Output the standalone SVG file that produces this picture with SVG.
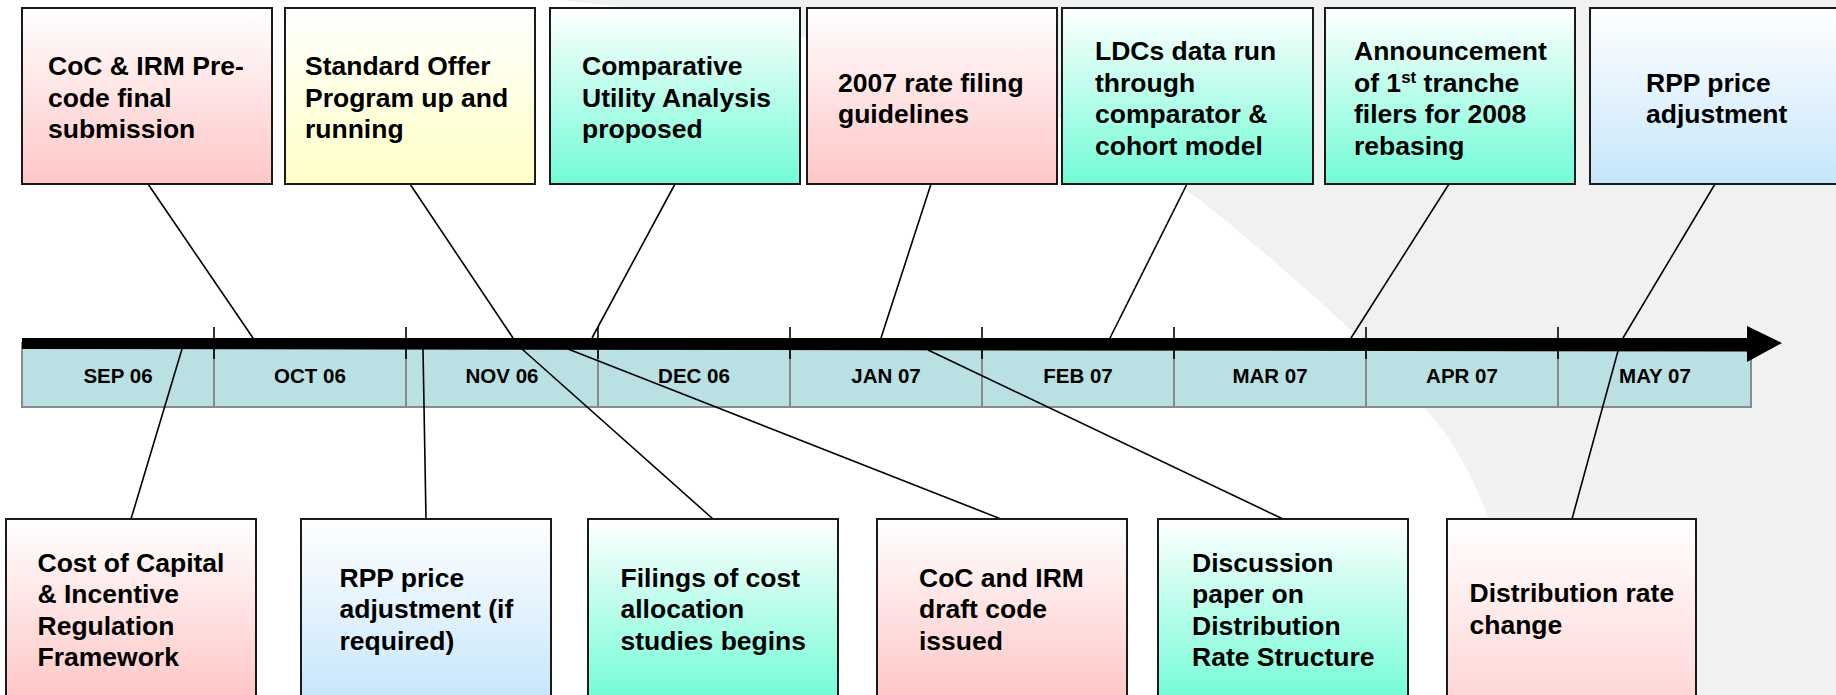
<svg xmlns="http://www.w3.org/2000/svg" width="1836" height="695" viewBox="0 0 1836 695">
<defs>
<linearGradient id="gPink" x1="0" y1="0" x2="0" y2="1"><stop offset="0" stop-color="#FFFFFF"/><stop offset="1" stop-color="#FFC6C6"/></linearGradient>
<linearGradient id="gLightPink" x1="0" y1="0" x2="0" y2="1"><stop offset="0" stop-color="#FFFFFF"/><stop offset="1" stop-color="#FFD6D6"/></linearGradient>
<linearGradient id="gYellow" x1="0" y1="0" x2="0" y2="1"><stop offset="0" stop-color="#FFFFFF"/><stop offset="1" stop-color="#FFFFC6"/></linearGradient>
<linearGradient id="gTeal" x1="0" y1="0" x2="0" y2="1"><stop offset="0" stop-color="#FFFFFF"/><stop offset="1" stop-color="#72FCD6"/></linearGradient>
<linearGradient id="gBlue" x1="0" y1="0" x2="0" y2="1"><stop offset="0" stop-color="#FFFFFF"/><stop offset="1" stop-color="#C6E6FB"/></linearGradient>
<style>
.box{stroke:#1a1a1a;stroke-width:2}
.t{font-family:"Liberation Sans",Arial,sans-serif;font-weight:bold;font-size:26.5px;fill:#000}
.m{font-family:"Liberation Sans",Arial,sans-serif;font-weight:bold;font-size:20.5px;fill:#000;text-anchor:middle}
.c{stroke:#000;stroke-width:1.6;fill:none}
.tick{stroke:#000;stroke-width:1.6}
.div{stroke:#8a8a8a;stroke-width:2}
</style>
</defs>
<rect width="1836" height="695" fill="#FFFFFF"/>
<path d="M560,0 H1836 V695 H1530 C1515,600 1500,520 1450,440 C1400,370 1300,280 1200,200 C1050,90 850,30 560,0 Z" fill="#F0F2F2"/>

<g id="timeline">
<rect x="22" y="343" width="1729" height="64" fill="#B9E0E3" stroke="#8a8a8a" stroke-width="2"/>
<g class="div">
<line x1="214" y1="349" x2="214" y2="407"/><line x1="406" y1="349" x2="406" y2="407"/><line x1="598" y1="349" x2="598" y2="407"/><line x1="790" y1="349" x2="790" y2="407"/><line x1="982" y1="349" x2="982" y2="407"/><line x1="1174" y1="349" x2="1174" y2="407"/><line x1="1366" y1="349" x2="1366" y2="407"/><line x1="1558" y1="349" x2="1558" y2="407"/>
</g>
<path d="M22,338 L1747,338 L1747,326 L1782,343 L1747,362 L1747,351.5 L22,349 Z" fill="#000"/>
<g class="tick">
<line x1="214" y1="327" x2="214" y2="359"/><line x1="406" y1="327" x2="406" y2="359"/><line x1="598" y1="327" x2="598" y2="359"/><line x1="790" y1="327" x2="790" y2="359"/><line x1="982" y1="327" x2="982" y2="359"/><line x1="1174" y1="327" x2="1174" y2="359"/><line x1="1366" y1="327" x2="1366" y2="359"/><line x1="1558" y1="327" x2="1558" y2="359"/>
</g>
<text class="m" x="118" y="383">SEP 06</text>
<text class="m" x="310" y="383">OCT 06</text>
<text class="m" x="502" y="383">NOV 06</text>
<text class="m" x="694" y="383">DEC 06</text>
<text class="m" x="886" y="383">JAN 07</text>
<text class="m" x="1078" y="383">FEB 07</text>
<text class="m" x="1270" y="383">MAR 07</text>
<text class="m" x="1462" y="383">APR 07</text>
<text class="m" x="1655" y="383">MAY 07</text>
</g>

<g id="connectors">
<line class="c" x1="148" y1="184" x2="253" y2="338"/>
<line class="c" x1="410" y1="184" x2="513" y2="338"/>
<line class="c" x1="675" y1="184" x2="592" y2="338"/>
<line class="c" x1="931" y1="184" x2="881" y2="338"/>
<line class="c" x1="1187" y1="184" x2="1110" y2="338"/>
<line class="c" x1="1449" y1="184" x2="1351" y2="338"/>
<line class="c" x1="1715" y1="184" x2="1623" y2="338"/>
<line class="c" x1="182" y1="349" x2="131" y2="519"/>
<line class="c" x1="423" y1="349" x2="426" y2="519"/>
<line class="c" x1="522" y1="349" x2="713" y2="519"/>
<line class="c" x1="568" y1="349" x2="1001" y2="519"/>
<line class="c" x1="928" y1="350" x2="1283" y2="519"/>
<line class="c" x1="1618" y1="351" x2="1572" y2="519"/>
</g>

<g id="n1"><rect class="box" x="22" y="8" width="250" height="176" fill="url(#gPink)"/>
<text class="t" x="48" y="75">CoC &amp; IRM Pre-</text><text class="t" x="48" y="106.5">code final</text><text class="t" x="48" y="138">submission</text></g>
<g id="n2"><rect class="box" x="285" y="8" width="250" height="176" fill="url(#gYellow)"/>
<text class="t" x="305" y="75">Standard Offer</text><text class="t" x="305" y="106.5">Program up and</text><text class="t" x="305" y="138">running</text></g>
<g id="n3"><rect class="box" x="550" y="8" width="250" height="176" fill="url(#gTeal)"/>
<text class="t" x="582" y="75">Comparative</text><text class="t" x="582" y="106.5">Utility Analysis</text><text class="t" x="582" y="138">proposed</text></g>
<g id="n4"><rect class="box" x="807" y="8" width="250" height="176" fill="url(#gPink)"/>
<text class="t" x="838" y="91.5">2007 rate filing</text><text class="t" x="838" y="123">guidelines</text></g>
<g id="n5"><rect class="box" x="1062" y="8" width="251" height="176" fill="url(#gTeal)"/>
<text class="t" x="1095" y="60">LDCs data run</text><text class="t" x="1095" y="91.5">through</text><text class="t" x="1095" y="123">comparator &amp;</text><text class="t" x="1095" y="154.5">cohort model</text></g>
<g id="n6"><rect class="box" x="1325" y="8" width="250" height="176" fill="url(#gTeal)"/>
<text class="t" x="1354" y="60">Announcement</text><text class="t" x="1354" y="91.5">of 1<tspan font-size="17" dy="-9">st</tspan><tspan dy="9"> tranche</tspan></text><text class="t" x="1354" y="123">filers for 2008</text><text class="t" x="1354" y="154.5">rebasing</text></g>
<g id="n7"><rect class="box" x="1590" y="8" width="252" height="176" fill="url(#gBlue)"/>
<text class="t" x="1646" y="91.5">RPP price</text><text class="t" x="1646" y="123">adjustment</text></g>

<g id="nA"><rect class="box" x="6" y="519" width="250" height="182" fill="url(#gPink)"/>
<text class="t" x="37.5" y="571.5">Cost of Capital</text><text class="t" x="37.5" y="603">&amp; Incentive</text><text class="t" x="37.5" y="634.5">Regulation</text><text class="t" x="37.5" y="666">Framework</text></g>
<g id="nB"><rect class="box" x="301" y="519" width="250" height="182" fill="url(#gBlue)"/>
<text class="t" x="339.5" y="586.5">RPP price</text><text class="t" x="339.5" y="618">adjustment (if</text><text class="t" x="339.5" y="649.5">required)</text></g>
<g id="nC"><rect class="box" x="588" y="519" width="250" height="182" fill="url(#gTeal)"/>
<text class="t" x="620.5" y="586.5">Filings of cost</text><text class="t" x="620.5" y="618">allocation</text><text class="t" x="620.5" y="649.5">studies begins</text></g>
<g id="nD"><rect class="box" x="877" y="519" width="250" height="182" fill="url(#gPink)"/>
<text class="t" x="919" y="586.5">CoC and IRM</text><text class="t" x="919" y="618">draft code</text><text class="t" x="919" y="649.5">issued</text></g>
<g id="nE"><rect class="box" x="1158" y="519" width="250" height="182" fill="url(#gTeal)"/>
<text class="t" x="1192" y="571.5">Discussion</text><text class="t" x="1192" y="603">paper on</text><text class="t" x="1192" y="634.5">Distribution</text><text class="t" x="1192" y="666">Rate Structure</text></g>
<g id="nF"><rect class="box" x="1447" y="519" width="249" height="182" fill="url(#gLightPink)"/>
<text class="t" x="1469.5" y="602">Distribution rate</text><text class="t" x="1469.5" y="633.5">change</text></g>
</svg>
